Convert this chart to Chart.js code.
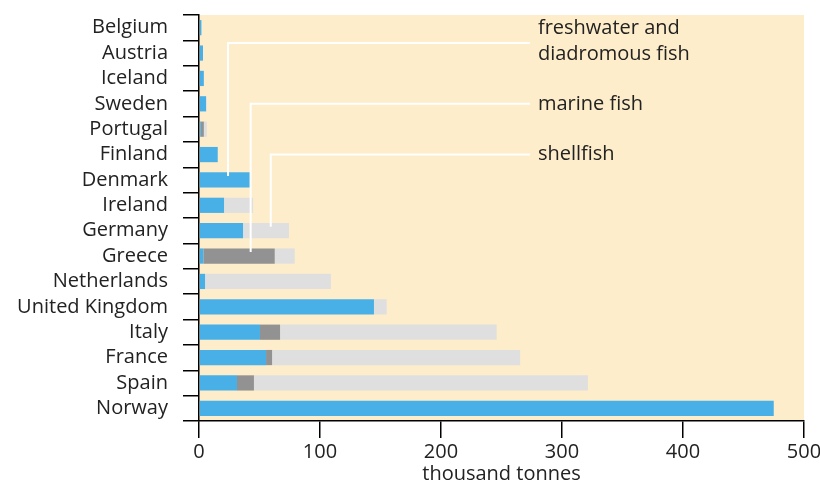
<!DOCTYPE html>
<html>
<head>
<meta charset="utf-8">
<script src="https://cdn.jsdelivr.net/npm/chart.js@4"></script>
<style>
  html, body { margin: 0; padding: 0; background: #fff; }
  #wrap { width: 820px; height: 486px; }
</style>
</head>
<body>
<div id="wrap"><canvas id="c"></canvas></div>
<script>
// countries, top to bottom
const countries = ['Belgium', 'Austria', 'Iceland', 'Sweden', 'Portugal', 'Finland', 'Denmark', 'Ireland',
  'Germany', 'Greece', 'Netherlands', 'United Kingdom', 'Italy', 'France', 'Spain', 'Norway'];

// thousand tonnes
const freshwater = [2, 3.3, 4, 5.8, 1.5, 15.5, 42, 20.7, 36.4, 3.6, 5, 144.6, 50.4, 55.4, 31.4, 475];
const marine     = [0, 0, 0, 0, 2.5, 0, 0, 0, 0, 59, 0, 0, 16.6, 5, 14, 0];
const shellfish  = [0, 0, 0, 0.7, 2.5, 0, 0.5, 24, 38, 16.5, 104, 10.5, 179, 205, 276, 0];

const xTicks = [0, 100, 200, 300, 400, 500];

// callout labels: text lines, x of the pointer (tonnes), row it points into, row of the leader
const callouts = [
  { lines: ['freshwater and', 'diadromous fish'], x: 24, target: 'Denmark', row: 0.6 },
  { lines: ['marine fish'], x: 42.7, target: 'Greece', row: 3 },
  { lines: ['shellfish'], x: 59.3, target: 'Germany', row: 5 }
];
const calloutEnd = 273.5;

const FONT = "'Open Sans', sans-serif";
const SIZE = 20;

const bgPlugin = {
  id: 'bg',
  beforeDraw(chart) {
    const { ctx, chartArea: a } = chart;
    ctx.save();
    ctx.fillStyle = '#fdedca';
    ctx.fillRect(a.left, a.top, a.right - a.left, a.bottom - a.top);
    ctx.restore();
  }
};

const calloutPlugin = {
  id: 'callouts',
  afterDatasetsDraw(chart) {
    const { ctx, scales: { x, y } } = chart;
    ctx.save();
    ctx.strokeStyle = '#ffffff';
    ctx.lineWidth = 2;
    ctx.fillStyle = '#222';
    ctx.font = SIZE + 'px ' + FONT;
    ctx.textBaseline = 'middle';
    callouts.forEach(c => {
      const px = x.getPixelForValue(c.x);
      const py = y.getPixelForValue(c.row);
      const yEnd = y.getPixelForValue(countries.indexOf(c.target)) - 4;
      const xEnd = x.getPixelForValue(calloutEnd);
      ctx.beginPath();
      ctx.moveTo(px, yEnd);
      ctx.lineTo(px, py);
      ctx.lineTo(xEnd, py);
      ctx.stroke();
      const lh = 26;
      const y0 = py - (c.lines.length - 1) * lh / 2 - (c.lines.length > 1 ? 2 : 0);
      c.lines.forEach((t, i) => ctx.fillText(t, xEnd + 8, y0 + i * lh));
    });
    ctx.restore();
  }
};

// keep tick label overflow from shrinking the plot area
const noOverflow = s => { s.paddingLeft = 0; s.paddingRight = 0; s.paddingTop = 0; s.paddingBottom = 0; };

new Chart(document.getElementById('c'), {
  type: 'bar',
  data: {
    labels: countries,
    datasets: [
      { label: 'freshwater and diadromous fish', data: freshwater, backgroundColor: '#48b0e6' },
      { label: 'marine fish', data: marine, backgroundColor: '#929292' },
      { label: 'shellfish', data: shellfish, backgroundColor: '#dfdfdf' }
    ]
  },
  options: {
    indexAxis: 'y',
    responsive: true,
    maintainAspectRatio: false,
    animation: false,
    layout: { padding: { top: 15, right: 16, left: 0, bottom: 0 } },
    datasets: { bar: { barPercentage: 0.6, categoryPercentage: 1 } },
    scales: {
      x: {
        stacked: true,
        min: 0,
        max: 500,
        afterBuildTicks: s => { s.ticks = xTicks.map(v => ({ value: v })); },
        afterFit: s => { s.height = 65; noOverflow(s); },
        grid: { drawOnChartArea: false, color: '#000', tickLength: 17, lineWidth: 1.5 },
        border: { color: '#000', width: 1.5 },
        ticks: { color: '#222', font: { family: FONT, size: SIZE }, padding: 2, maxRotation: 0 },
        title: { display: true, text: 'thousand tonnes', color: '#222', font: { family: FONT, size: SIZE }, padding: 0 }
      },
      y: {
        stacked: true,
        afterFit: s => { s.width = 199; noOverflow(s); },
        grid: { drawOnChartArea: false, color: '#000', tickLength: 16, lineWidth: 1.5 },
        border: { color: '#000', width: 1.5 },
        ticks: { color: '#222', font: { family: FONT, size: SIZE }, padding: 15, autoSkip: false }
      }
    },
    plugins: {
      legend: { display: false },
      tooltip: { enabled: false }
    }
  },
  plugins: [bgPlugin, calloutPlugin]
});
</script>
</body>
</html>
